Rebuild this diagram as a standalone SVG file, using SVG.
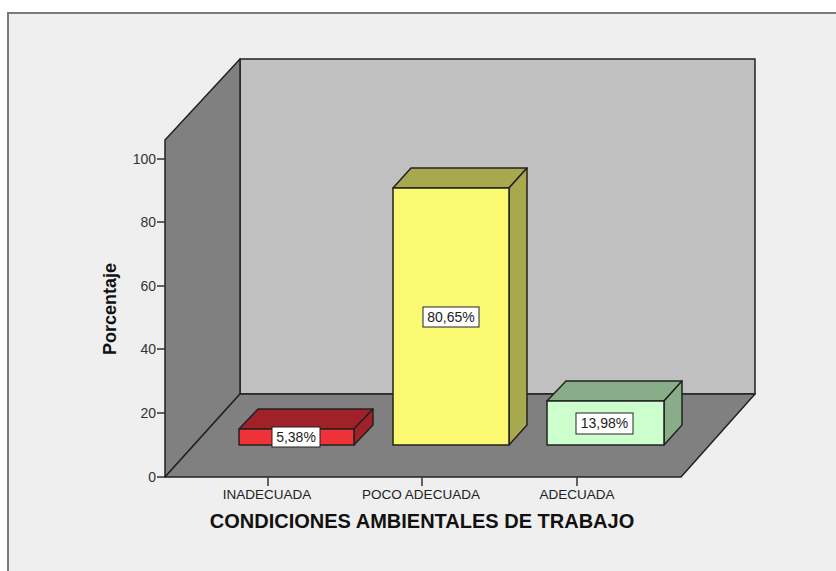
<svg xmlns="http://www.w3.org/2000/svg" width="836" height="571" viewBox="0 0 836 571">
<style>
.edge{stroke:#222;stroke-width:1.5;stroke-linejoin:round}
.tick{stroke:#333;stroke-width:1.5}
.tl{font-family:"Liberation Sans",Arial,sans-serif;font-size:14px;fill:#333;text-anchor:end}
.cat{font-family:"Liberation Sans",Arial,sans-serif;font-size:13.5px;fill:#222;text-anchor:middle}
.title{font-family:"Liberation Sans",Arial,sans-serif;font-size:20px;font-weight:bold;fill:#111;text-anchor:middle}
.lbl{font-family:"Liberation Sans",Arial,sans-serif;font-size:14px;fill:#222;text-anchor:middle}
.box{fill:#fff;stroke:#222;stroke-width:1}
</style>
<rect x="0" y="0" width="836" height="571" fill="#ffffff"/>
<rect x="8" y="13" width="840" height="570" fill="#efefef" stroke="#7a7a7a" stroke-width="2"/>
<g id="chart-frame">
<polygon class="edge" points="240,59 755,59 755,394 240,394" fill="#c0c0c0"/>
<polygon class="edge" points="165,140 240,59 240,394 165,477" fill="#808080"/>
<polygon class="edge" points="165,477 240,394 755,394 681,477" fill="#808080"/>
</g>
<g id="y-axis">
<line class="tick" x1="157" y1="159" x2="165" y2="159"/>
<line class="tick" x1="157" y1="222" x2="165" y2="222"/>
<line class="tick" x1="157" y1="286" x2="165" y2="286"/>
<line class="tick" x1="157" y1="349" x2="165" y2="349"/>
<line class="tick" x1="157" y1="413" x2="165" y2="413"/>
<line class="tick" x1="157" y1="477" x2="165" y2="477"/>
<text class="tl" x="156" y="164">100</text>
<text class="tl" x="156" y="227">80</text>
<text class="tl" x="156" y="291">60</text>
<text class="tl" x="156" y="354">40</text>
<text class="tl" x="156" y="418">20</text>
<text class="tl" x="156" y="482">0</text>
<text x="116" y="309" transform="rotate(-90 116 309)" font-family="Liberation Sans,Arial,sans-serif" font-size="18" font-weight="bold" fill="#111" text-anchor="middle">Porcentaje</text>
</g>
<g id="x-axis">
<line class="tick" x1="268" y1="477" x2="268" y2="486"/>
<line class="tick" x1="422" y1="477" x2="422" y2="486"/>
<line class="tick" x1="577" y1="477" x2="577" y2="486"/>
<text class="cat" x="267" y="499">INADECUADA</text>
<text class="cat" x="421" y="499">POCO ADECUADA</text>
<text class="cat" x="577" y="499">ADECUADA</text>
<text class="title" x="422" y="528">CONDICIONES AMBIENTALES DE TRABAJO</text>
</g>
<g id="bar-inadecuada">
<polygon class="edge" points="239,429 258,409 373,409 354,429" fill="#a02228"/>
<polygon class="edge" points="354,429 373,409 373,425 354,445" fill="#a02228"/>
<rect class="edge" x="239" y="429" width="115" height="16" fill="#ef3237"/>
<rect class="box" x="272" y="427" width="48" height="20"/>
<text class="lbl" x="296" y="442">5,38%</text>
</g>
<g id="bar-poco-adecuada">
<polygon class="edge" points="393,188 411,168 527,168 509,188" fill="#a8a84e"/>
<polygon class="edge" points="509,188 527,168 527,425 509,445" fill="#a8a84e"/>
<rect class="edge" x="393" y="188" width="116" height="257" fill="#fbf872"/>
<rect class="box" x="423" y="307" width="56" height="20"/>
<text class="lbl" x="451" y="322">80,65%</text>
</g>
<g id="bar-adecuada">
<polygon class="edge" points="547,401 566,381 682,381 664,401" fill="#89ac89"/>
<polygon class="edge" points="664,401 682,381 682,425 664,445" fill="#89ac89"/>
<rect class="edge" x="547" y="401" width="117" height="44" fill="#ccffcc"/>
<rect class="box" x="576" y="413" width="57" height="21"/>
<text class="lbl" x="604.5" y="428">13,98%</text>
</g>
</svg>
